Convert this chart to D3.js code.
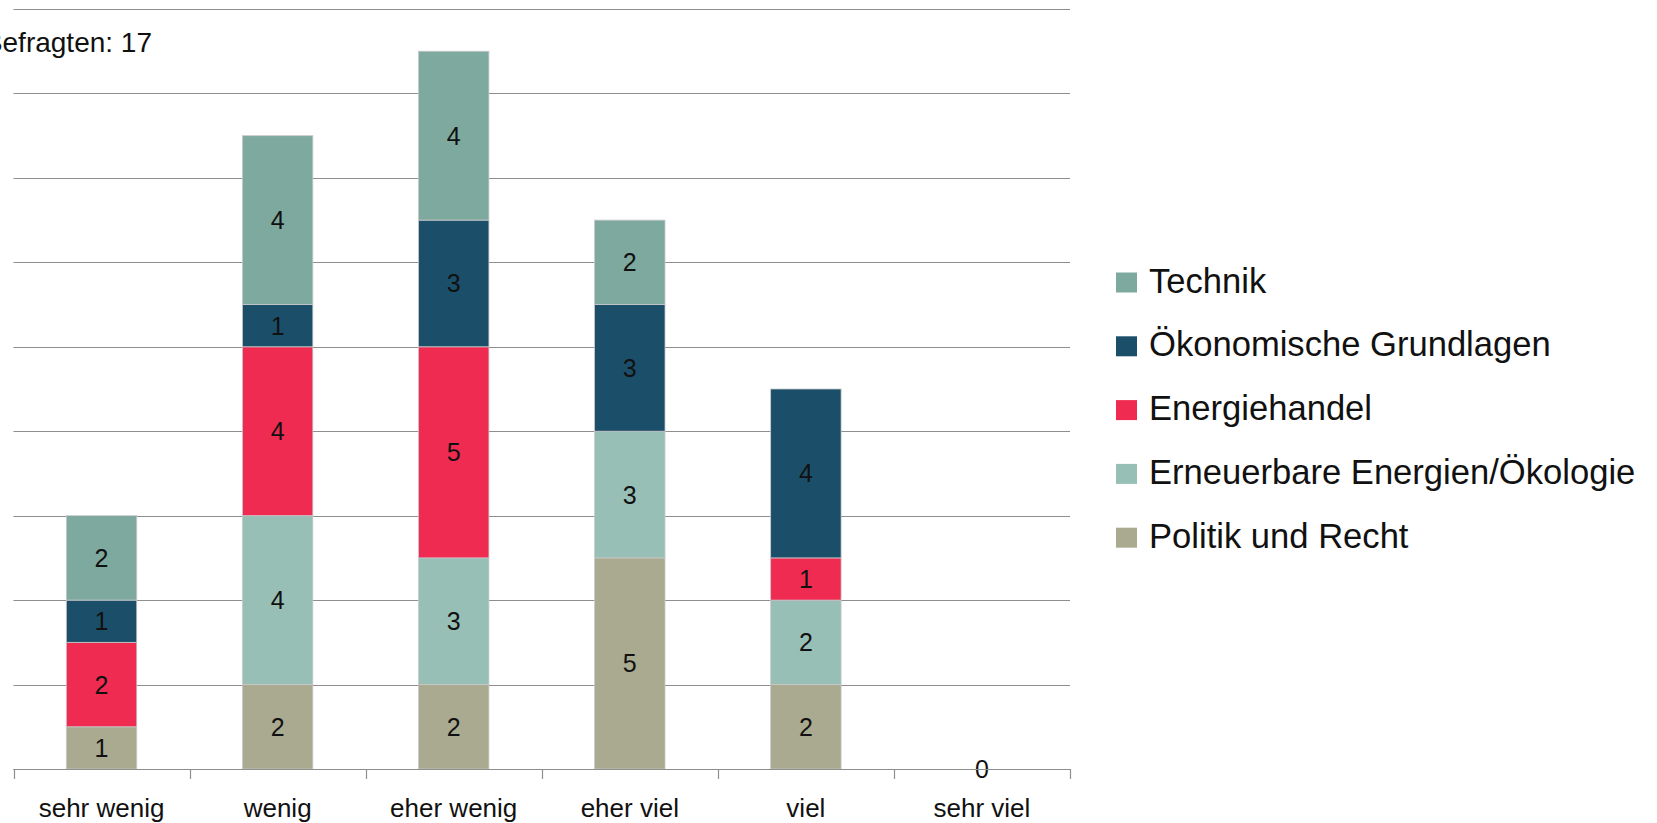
<!DOCTYPE html>
<html><head><meta charset="utf-8">
<script src="https://cdn.jsdelivr.net/npm/d3@7/dist/d3.min.js"></script>
<style>body{margin:0;background:#fff;} svg{display:block;} text{font-family:"Liberation Sans",Arial,sans-serif;fill:#111;}</style>
</head><body>
<svg id="c" width="1657" height="823"></svg>
<script>
const categories = ["sehr wenig","wenig","eher wenig","eher viel","viel","sehr viel"];
const seriesNames = ["Politik und Recht","Erneuerbare Energien/Ökologie","Energiehandel","Ökonomische Grundlagen","Technik"];
const politik     = [1,2,2,5,2,0];
const erneuerbare = [0,4,3,3,2,0];
const energiehandel = [2,4,5,0,1,0];
const oekonomisch = [1,1,3,3,4,0];
const technik     = [2,4,4,2,0,0];
const colors = ["#a9aa8f","#97bfb6","#ef2b51","#1b4f69","#7ea99e"];
const yTicks = [0,2,4,6,8,10,12,14,16,18];
const noteText = "Befragten: 17";

const values = [politik, erneuerbare, energiehandel, oekonomisch, technik];
const rows = categories.map((c,i)=>{const r={cat:c}; seriesNames.forEach((s,k)=>r[s]=values[k][i]); return r;});
const stacked = d3.stack().keys(seriesNames)(rows);

const svg = d3.select("#c");
const x = d3.scaleBand().domain(categories).range([13.5,1070]).paddingInner(0.6).paddingOuter(0.3);
const xEdge = d3.scaleLinear().domain([0,categories.length]).range([13.5,1070]);
const y = d3.scaleLinear().domain([0,18]).range([769,9]);

// gridlines
svg.append("g").selectAll("line").data(yTicks).join("line")
  .attr("x1",13.5).attr("x2",1070).attr("y1",d=>Math.round(y(d))+0.5).attr("y2",d=>Math.round(y(d))+0.5)
  .attr("stroke","#8e8e8e").attr("stroke-width",1.2);

// bars
const g = svg.append("g");
stacked.forEach((s,k)=>{
  g.append("g").selectAll("rect").data(s.filter(d=>d[1]-d[0]>0)).join("rect")
    .attr("x",d=>x(d.data.cat)).attr("width",x.bandwidth())
    .attr("y",d=>y(d[1])).attr("height",d=>y(d[0])-y(d[1]))
    .attr("fill",colors[k]).attr("stroke","#c9c9c9").attr("stroke-width",0.8);
});
stacked.forEach((s,k)=>{
  g.append("g").selectAll("text").data(s.filter(d=>d[1]-d[0]>0)).join("text")
    .attr("x",d=>x(d.data.cat)+x.bandwidth()/2).attr("y",d=>(y(d[0])+y(d[1]))/2)
    .attr("text-anchor","middle").attr("dominant-baseline","central")
    .attr("font-size",25).text(d=>d[1]-d[0]);
});
// zero label for empty categories
const totals = categories.map((c,i)=>d3.sum(values,v=>v[i]));
g.append("g").selectAll("text").data(categories.filter((c,i)=>totals[i]===0)).join("text")
  .attr("x",d=>x(d)+x.bandwidth()/2).attr("y",y(0))
  .attr("text-anchor","middle").attr("dominant-baseline","central")
  .attr("font-size",25).text("0");

// x axis
const ax = svg.append("g");
ax.append("line").attr("x1",13.5).attr("x2",1070).attr("y1",769.5).attr("y2",769.5).attr("stroke","#8e8e8e").attr("stroke-width",1.2);
ax.selectAll("line.t").data(d3.range(categories.length+1)).join("line").attr("class","t")
  .attr("x1",d=>Math.round(xEdge(d))+0.5).attr("x2",d=>Math.round(xEdge(d))+0.5).attr("y1",769).attr("y2",779)
  .attr("stroke","#8e8e8e").attr("stroke-width",1.2);
ax.selectAll("text").data(categories).join("text")
  .attr("x",d=>x(d)+x.bandwidth()/2).attr("y",817).attr("text-anchor","middle")
  .attr("font-size",26).text(d=>d);

// note
svg.append("text").attr("x",152).attr("y",52).attr("text-anchor","end").attr("font-size",28).text(noteText);

// legend
const legendOrder = seriesNames.map((s,k)=>({s,k})).reverse();
const lg = svg.append("g").selectAll("g").data(legendOrder).join("g")
  .attr("transform",(d,i)=>`translate(1116,${292.5+i*63.8})`);
lg.append("rect").attr("x",0).attr("y",-20).attr("width",21).attr("height",20).attr("fill",d=>colors[d.k]);
lg.append("text").attr("x",33).attr("y",0).attr("font-size",34.6).text(d=>d.s);
</script>
</body></html>
